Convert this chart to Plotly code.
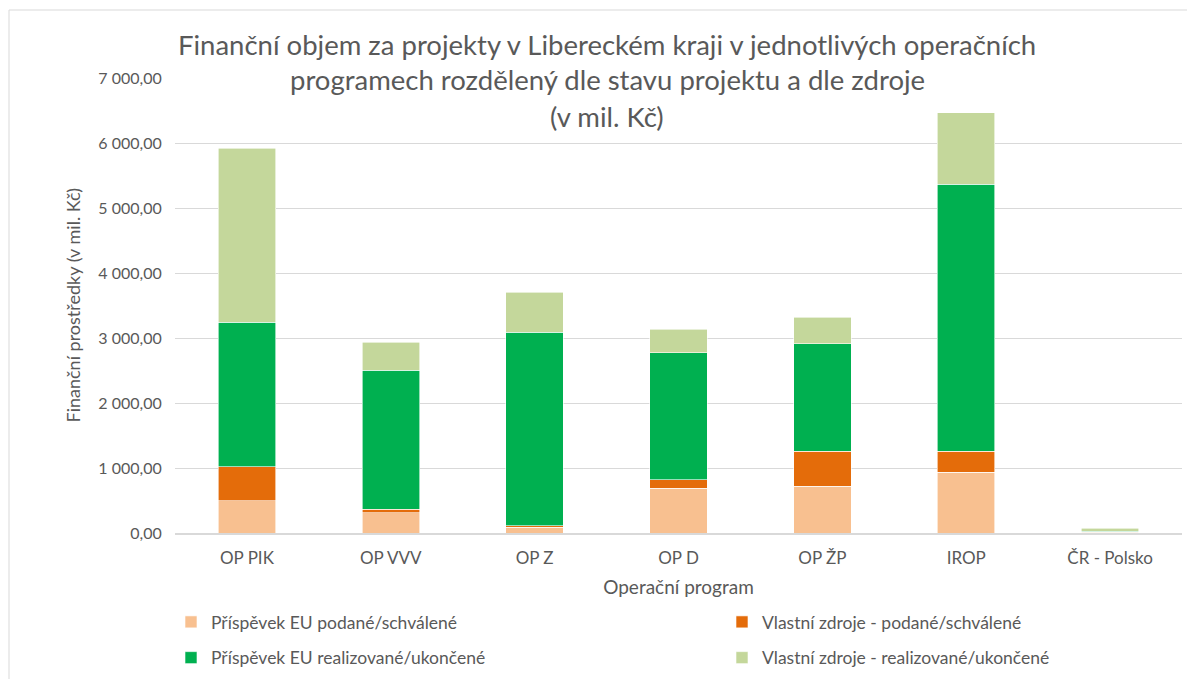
import plotly.graph_objects as go

categories = ["OP PIK", "OP VVV", "OP Z", "OP D", "OP ŽP", "IROP", "ČR - Polsko"]
eu_podane = [498, 308, 87, 687, 718, 933, 5]
vlastni_podane = [519, 57, 21, 134, 538, 323, 3]
eu_realizovane = [2229, 2141, 2984, 1953, 1652, 4113, 20]
vlastni_realizovane = [2676, 427, 611, 364, 410, 1098, 47]

series_names = [
    "Příspěvek EU podané/schválené",
    "Vlastní zdroje - podané/schválené",
    "Příspěvek EU realizované/ukončené",
    "Vlastní zdroje - realizované/ukončené",
]
title_lines = [
    "Finanční objem za projekty v Libereckém kraji v jednotlivých operačních",
    "programech rozdělený dle stavu projektu a dle zdroje",
    "(v mil. Kč)",
]
y_title = "Finanční prostředky (v mil. Kč)"
x_title = "Operační program"
colors = ["#F8C090", "#E46C0A", "#00B050", "#C4D79B"]
series_values = [eu_podane, vlastni_podane, eu_realizovane, vlastni_realizovane]
legend_ids = ["legend", "legend2", "legend", "legend2"]

FONT = "Lato"
GREY = "#595959"
# the page body adds an 8 px offset; the figure is sized to fit the window
W, H = 1187, 671
L, R, T, B = 167, 13, 70, 146

fig = go.Figure()
for i, (name, vals, col, lg) in enumerate(zip(series_names, series_values, colors, legend_ids)):
    fig.add_trace(go.Bar(
        x=categories, y=vals, name=name, legend=lg, legendgroup=f"g{i}",
        marker=dict(color=col, line=dict(color="white", width=0.6)),
    ))

pw = W - L - R
ph = H - T - B
title_x = (599 - L) / pw
annotations = []
for line, ypx in zip(title_lines, [36, 71, 108]):
    annotations.append(dict(
        text=line, xref="paper", yref="paper",
        x=title_x, y=1 + (T - ypx) / ph,
        xanchor="center", yanchor="middle", showarrow=False,
        font=dict(family=FONT, size=27.5, color=GREY),
    ))
annotations.append(dict(
    text=y_title, xref="paper", yref="paper",
    x=(64 - L) / pw, y=0.5, textangle=-90,
    xanchor="center", yanchor="middle", showarrow=False,
    font=dict(family=FONT, size=18, color=GREY),
))

legend_common = dict(
    orientation="v", xref="container", yref="container",
    yanchor="top", xanchor="left",
    font=dict(size=17.5, color=GREY, family=FONT),
    traceorder="grouped", tracegroupgap=10, itemwidth=30,
    bgcolor="rgba(0,0,0,0)",
)

fig.update_layout(
    width=W, height=H,
    margin=dict(l=L, r=R, t=T, b=B, autoexpand=False),
    paper_bgcolor="white", plot_bgcolor="white",
    barmode="stack", bargap=0.6,
    separators=", ",
    font=dict(family=FONT, color=GREY, size=16),
    annotations=annotations,
    xaxis=dict(
        showgrid=False, showline=True, linecolor="#D9D9D9", linewidth=1.5,
        ticks="outside", ticklen=9, tickcolor="rgba(0,0,0,0)",
        tickfont=dict(size=17, color=GREY, family=FONT),
        title=dict(text=x_title, font=dict(size=19, color=GREY, family=FONT), standoff=14),
    ),
    yaxis=dict(
        range=[0, 7000], dtick=1000, tickformat=",.2f",
        showgrid=True, gridcolor="#D9D9D9", gridwidth=1,
        zeroline=False, showline=False, ticks="",
        tickfont=dict(size=16, color=GREY, family=FONT),
        ticksuffix="\u00a0\u00a0\u00a0",
    ),
    legend=dict(x=163 / W, y=1 - 596 / H, **legend_common),
    legend2=dict(x=714 / W, y=1 - 596 / H, **legend_common),
    shapes=[dict(
        type="rect", xref="paper", yref="paper",
        x0=(1 - L) / pw, x1=(W + 5 - L) / pw,
        y0=-(H + 5 - T - ph) / ph, y1=1 + (T - 2) / ph,
        line=dict(color="#D9D9D9", width=1), fillcolor="rgba(0,0,0,0)", layer="below",
    )],
)

fig.write_html("out.html")
